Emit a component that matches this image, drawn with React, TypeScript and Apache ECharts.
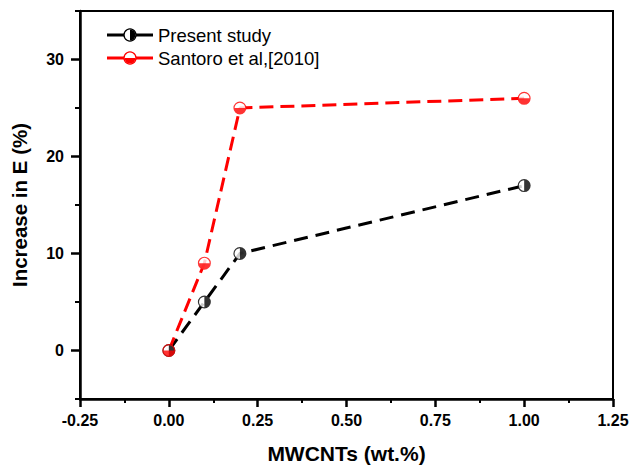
import React, { useEffect, useRef } from "react";
import * as echarts from "echarts";

const xPresent = [0, 0.1, 0.2, 1.0];
const yPresent = [0, 5, 10, 17];
const xSantoro = [0, 0.1, 0.2, 1.0];
const ySantoro = [0, 9, 25, 26];
const seriesNames = ["Present study", "Santoro et al,[2010]"];
const xTicks = [-0.25, 0, 0.25, 0.5, 0.75, 1.0, 1.25];
const yMajorTicks = [0, 10, 20, 30];
const yMinorTicks = [-5, 5, 15, 25, 35];

const FONT = "'Liberation Sans', Arial, Helvetica, sans-serif";
const RED = "#ff0000";
const BLACK = "#000000";

const ring = "M10,0 A10,10 0 1,1 10,20 A10,10 0 1,1 10,0 Z M10,1.8 A8.2,8.2 0 1,0 10,18.2 A8.2,8.2 0 1,0 10,1.8 Z ";
const rightHalf = "path://" + ring + "M10,1.8 A8.2,8.2 0 0,1 10,18.2 Z";
const bottomHalf = "path://" + ring + "M1.8,10 A8.2,8.2 0 0,0 18.2,10 Z";

const pairs = (xs: number[], ys: number[]) => xs.map((x, i) => [x, ys[i]]);

export default function App() {
  const ref = useRef<HTMLDivElement>(null);
  useEffect(() => {
    if (!ref.current) return;
    const chart = echarts.init(ref.current, undefined, { renderer: "svg" });
    const presentData = pairs(xPresent, yPresent);
    const santoroData = pairs(xSantoro, ySantoro);
    const SYM = 13;
    const legendItem = (y: number, color: string, half: "right" | "bottom", label: string) => [
      { type: "line", shape: { x1: 107, y1: y, x2: 153, y2: y }, style: { stroke: color, lineWidth: 3 }, z: 10 },
      { type: "circle", shape: { cx: 130, cy: y, r: 6 }, style: { fill: "#fff", stroke: color, lineWidth: 1.3 }, z: 11 },
      {
        type: "sector",
        shape: half === "right"
          ? { cx: 130, cy: y, r: 5.5, r0: 0, startAngle: -Math.PI / 2, endAngle: Math.PI / 2, clockwise: true }
          : { cx: 130, cy: y, r: 5.5, r0: 0, startAngle: 0, endAngle: Math.PI, clockwise: true },
        style: { fill: color },
        z: 12,
      },
      { type: "text", x: 158, y: y, style: { text: label, font: `18.5px ${FONT}`, fill: "#000", verticalAlign: "middle" }, z: 12 },
    ];
    chart.setOption({
      animation: false,
      backgroundColor: "#fff",
      grid: {
        left: 80, right: 16, top: 11, bottom: 66,
        outerBoundsMode: "none",
        containLabel: false,
        show: true, borderColor: "#000", borderWidth: 2, backgroundColor: "transparent",
      },
      xAxis: {
        type: "value",
        min: xTicks[0],
        max: xTicks[xTicks.length - 1],
        interval: 0.25,
        name: "MWCNTs (wt.%)",
        nameLocation: "middle",
        nameGap: 44,
        nameTextStyle: { fontFamily: FONT, fontSize: 21, fontWeight: "bold", color: "#000" },
        axisLine: { onZero: false, lineStyle: { color: "#000", width: 2.5 } },
        axisTick: { show: true, length: 8, lineStyle: { color: "#000", width: 2.5 } },
        minorTick: { show: true, splitNumber: 2, length: 4, lineStyle: { color: "#000", width: 2 } },
        axisLabel: {
          margin: 13,
          fontFamily: FONT,
          fontSize: 16,
          fontWeight: "bold",
          color: "#000",
          formatter: (v: number) => v.toFixed(2),
        },
        splitLine: { show: false },
      },
      yAxis: [
        {
          type: "value",
          min: -5,
          max: 35,
          name: "Increase in E (%)",
          nameLocation: "middle",
          nameGap: 50,
          nameTextStyle: { fontFamily: FONT, fontSize: 20.5, fontWeight: "bold", color: "#000" },
          axisLine: { onZero: false, lineStyle: { color: "#000", width: 2.5 } },
          axisTick: { show: true, length: 9, customValues: yMajorTicks, lineStyle: { color: "#000", width: 2.5 } },
          axisLabel: {
            margin: 16,
            customValues: yMajorTicks,
            fontFamily: FONT,
            fontSize: 16,
            fontWeight: "bold",
            color: "#000",
          },
          splitLine: { show: false },
        },
        {
          type: "value",
          position: "left",
          min: -5,
          max: 35,
          axisLine: { show: false, onZero: false },
          axisTick: { show: true, length: 5, customValues: yMinorTicks, lineStyle: { color: "#000", width: 2 } },
          axisLabel: { show: false, customValues: yMinorTicks },
          splitLine: { show: false },
        },
      ],
      series: [
        {
          name: seriesNames[0],
          type: "line",
          data: presentData,
          symbol: "none",
          lineStyle: { color: BLACK, width: 3, type: [14, 8] },
          z: 2,
        },
        {
          name: seriesNames[1],
          type: "line",
          data: santoroData,
          symbol: "none",
          lineStyle: { color: RED, width: 3, type: [14, 7] },
          z: 2,
        },
        {
          type: "scatter",
          data: presentData,
          symbol: "circle",
          symbolSize: SYM - 1,
          itemStyle: { color: "#fff" },
          z: 3,
        },
        {
          type: "scatter",
          data: santoroData,
          symbol: "circle",
          symbolSize: SYM - 1,
          itemStyle: { color: "#fff" },
          z: 3,
        },
        {
          type: "scatter",
          data: presentData,
          symbol: rightHalf,
          symbolSize: SYM,
          itemStyle: { color: BLACK },
          z: 4,
        },
        {
          type: "scatter",
          data: santoroData,
          symbol: bottomHalf,
          symbolSize: SYM,
          itemStyle: { color: RED },
          z: 4,
        },
      ],
      graphic: [
        ...legendItem(35, BLACK, "right", seriesNames[0]),
        ...legendItem(58, RED, "bottom", seriesNames[1]),
      ],
    });
    return () => chart.dispose();
  }, []);
  return <div ref={ref} style={{ width: 629, height: 465, position: "absolute", left: 0, top: 0 }} />;
}
